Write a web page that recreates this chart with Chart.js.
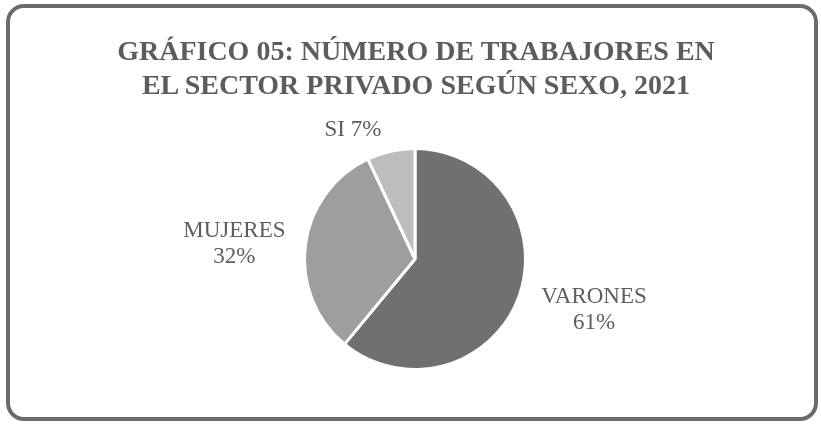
<!DOCTYPE html>
<html>
<head>
<meta charset="utf-8">
<script src="https://cdn.jsdelivr.net/npm/chart.js@4.4.1/dist/chart.umd.min.js"></script>
<style>
    html, body { margin: 0; padding: 0; background: #ffffff; }
    #wrap { position: relative; width: 821px; height: 424px; overflow: hidden; }
    #frame {
        position: absolute; left: 6px; top: 4px; width: 804px; height: 409px;
        border: 4px solid #6b6b6b; border-radius: 18px; pointer-events: none;
    }
    #title {
        position: absolute; left: 0; top: 34px; width: 832px; text-align: center;
        font-family: "Liberation Serif", "Times New Roman", serif; font-weight: bold;
        font-size: 28px; line-height: 34px; color: #5c5c5c;
    }
    canvas { position: absolute; left: 0; top: 0; }
</style>
</head>
<body>
<div id="wrap">
    <canvas id="pieChart" width="821" height="424"></canvas>
    <div id="frame"></div>
    <div id="title">GRÁFICO 05: NÚMERO DE TRABAJORES EN<br>EL SECTOR PRIVADO SEGÚN SEXO, 2021</div>
</div>
<script>
// data
const categories = ['VARONES', 'MUJERES', 'SI'];
const shares = [61, 32, 7];

// styles
const sliceColors = ['#707070', '#9e9e9e', '#bdbdbd'];
const labelInline = [false, false, true];
const labelOffsets = [[75, 14], [-71, -1], [-38, -21]];

// draws the category labels next to each slice
const sliceLabels = {
    id: 'sliceLabels',
    afterDatasetsDraw(chart) {
        const ctx = chart.ctx;
        const meta = chart.getDatasetMeta(0);
        ctx.save();
        ctx.font = '23px "Liberation Serif", "Times New Roman", serif';
        ctx.fillStyle = '#5e5e5e';
        ctx.textAlign = 'center';
        ctx.textBaseline = 'middle';
        meta.data.forEach((arc, i) => {
            const p = arc.getProps(['x', 'y', 'startAngle', 'endAngle', 'outerRadius'], true);
            const mid = (p.startAngle + p.endAngle) / 2;
            const x = p.x + Math.cos(mid) * p.outerRadius + labelOffsets[i][0];
            const y = p.y + Math.sin(mid) * p.outerRadius + labelOffsets[i][1];
            const pct = shares[i] + '%';
            if (labelInline[i]) {
                ctx.fillText(categories[i] + ' ' + pct, x, y);
            } else {
                ctx.fillText(categories[i], x, y - 13);
                ctx.fillText(pct, x, y + 13);
            }
        });
        ctx.restore();
    }
};

new Chart(document.getElementById('pieChart').getContext('2d'), {
    type: 'pie',
    data: {
        labels: categories,
        datasets: [{
            data: shares,
            backgroundColor: sliceColors,
            borderColor: '#ffffff',
            borderWidth: 3
        }]
    },
    options: {
        responsive: false,
        animation: false,
        layout: { padding: { top: 147, bottom: 53, left: 303, right: 294 } },
        plugins: {
            legend: { display: false },
            tooltip: { enabled: false },
            title: { display: false }
        }
    },
    plugins: [sliceLabels]
});
</script>
</body>
</html>
